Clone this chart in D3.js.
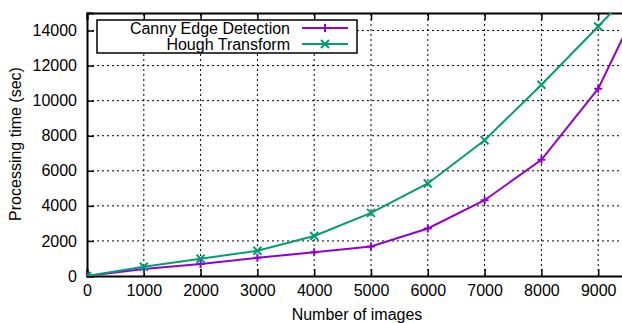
<!DOCTYPE html>
<html lang="en">
<head>
<meta charset="UTF-8">
<title>Processing time</title>
<script src="https://d3js.org/d3.v7.min.js"></script>
<style>
  body { margin: 0; padding: 0; background: #fff; overflow: hidden; }
  svg { display: block; font-family: "Liberation Sans", Arial, sans-serif; }
</style>
</head>
<body>
<div id="chart"></div>
<script>
// data
const images = [0, 1000, 2000, 3000, 4000, 5000, 6000, 7000, 8000, 9000, 10000];
const canny  = [0, 400, 680, 1040, 1350, 1680, 2710, 4320, 6630, 10680, 17400];
const hough  = [0, 530, 985, 1440, 2280, 3600, 5275, 7740, 10910, 14230, 17650];
const xTicks = [0, 1000, 2000, 3000, 4000, 5000, 6000, 7000, 8000, 9000];
const yTicks = [0, 2000, 4000, 6000, 8000, 10000, 12000, 14000];
const seriesNames = ["Canny Edge Detection", "Hough Transform"];
const seriesColors = ["#9400d3", "#009e73"];

const width = 622, height = 323;
const margin = { left: 87, top: 13, bottom: 47 };
const plotW = 568; // plot runs past the right edge of the picture
const plotH = height - margin.top - margin.bottom;

const svg = d3.select("#chart").append("svg")
    .attr("width", width)
    .attr("height", height);

const x = d3.scaleLinear().domain([0, 10000]).range([margin.left, margin.left + plotW]);
const y = d3.scaleLinear().domain([0, 15000]).range([margin.top + plotH, margin.top]);

svg.append("defs").append("clipPath").attr("id", "plot-clip")
  .append("rect")
    .attr("x", margin.left).attr("y", margin.top)
    .attr("width", plotW).attr("height", plotH);

// dotted grid
const grid = svg.append("g").attr("stroke", "#000").attr("stroke-width", 1)
    .attr("stroke-dasharray", "2,3");
grid.selectAll(".gx").data(xTicks.slice(1)).join("line")
    .attr("x1", d => x(d)).attr("x2", d => x(d))
    .attr("y1", y(0)).attr("y2", y(15000));
grid.selectAll(".gy").data(yTicks.slice(1)).join("line")
    .attr("y1", d => y(d)).attr("y2", d => y(d))
    .attr("x1", x(0)).attr("x2", x(10000));

// axes with inward ticks
const xAxis = svg.append("g")
    .attr("transform", `translate(0,${y(0)})`)
    .call(d3.axisBottom(x).tickValues(xTicks).tickSize(-7).tickPadding(15).tickFormat(d3.format("d")));
const xTop = svg.append("g")
    .attr("transform", `translate(0,${y(15000)})`)
    .call(d3.axisTop(x).tickValues(xTicks).tickSize(-7).tickFormat(""));
const yAxis = svg.append("g")
    .attr("transform", `translate(${x(0)},0)`)
    .call(d3.axisLeft(y).tickValues(yTicks).tickSize(-7).tickPadding(10).tickFormat(d3.format("d")));

[xAxis, xTop, yAxis].forEach(g => {
  g.select(".domain").attr("stroke", "#000").attr("stroke-width", 2);
  g.selectAll(".tick line").attr("stroke", "#000").attr("stroke-width", 1.5);
  g.selectAll(".tick text").attr("fill", "#000")
      .style("font-size", "16px").style("font-family", "'Liberation Sans', Arial, sans-serif");
});
xAxis.selectAll(".tick text").attr("dy", "0.71em").attr("y", 9);
yAxis.selectAll(".tick text").attr("x", -10);

// series
const series = [canny, hough].map((vals, i) => ({
  name: seriesNames[i],
  color: seriesColors[i],
  points: images.map((n, j) => ({ n, v: vals[j] }))
}));

const line = d3.line().x(d => x(d.n)).y(d => y(d.v));
const plot = svg.append("g").attr("clip-path", "url(#plot-clip)");

function marker(g, kind, cx, cy, color) {
  const s = 4;
  const path = kind === 0
    ? `M${cx - s},${cy}H${cx + s}M${cx},${cy - s}V${cy + s}`
    : `M${cx - s},${cy - s}L${cx + s},${cy + s}M${cx - s},${cy + s}L${cx + s},${cy - s}`;
  g.append("path").attr("d", path).attr("stroke", color).attr("stroke-width", 2).attr("fill", "none");
}

series.forEach((s, i) => {
  plot.append("path").datum(s.points)
      .attr("d", line)
      .attr("fill", "none")
      .attr("stroke", s.color)
      .attr("stroke-width", 2);
  s.points.forEach(p => marker(plot, i, x(p.n), y(p.v), s.color));
});

// legend
const legend = svg.append("g");
legend.append("rect")
    .attr("x", 97).attr("y", 20).attr("width", 260).attr("height", 33)
    .attr("fill", "#fff").attr("stroke", "#000").attr("stroke-width", 1.5);
series.forEach((s, i) => {
  const ly = 28 + i * 16;
  legend.append("text")
      .attr("x", 290).attr("y", ly).attr("dy", "0.35em")
      .attr("text-anchor", "end")
      .style("font-size", "16px")
      .text(s.name);
  legend.append("line")
      .attr("x1", 302).attr("x2", 348).attr("y1", ly).attr("y2", ly)
      .attr("stroke", s.color).attr("stroke-width", 2);
  marker(legend, i, 325, ly, s.color);
});

// axis titles
svg.append("text")
    .attr("x", 357).attr("y", 320)
    .attr("text-anchor", "middle")
    .style("font-size", "16px")
    .text("Number of images");
svg.append("text")
    .attr("transform", `translate(21,144) rotate(-90)`)
    .attr("text-anchor", "middle")
    .style("font-size", "16px")
    .text("Processing time (sec)");
</script>
</body>
</html>
